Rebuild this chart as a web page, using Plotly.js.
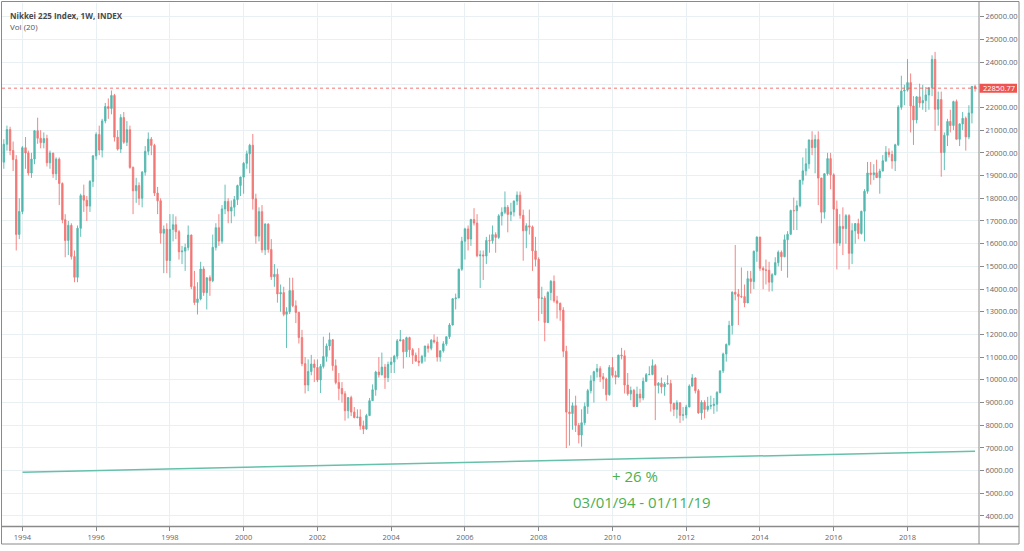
<!DOCTYPE html>
<html>
<head>
<meta charset="utf-8">
<script src="https://cdn.plot.ly/plotly-3.0.1.min.js"></script>
<style>html,body{margin:0;padding:0;background:#fff;}#chart{width:1024px;height:551px;}</style>
</head>
<body>
<div id="chart"></div>
<script>
// Nikkei 225 monthly candles, Jun 1993 .. Nov 2019
const firstYear = 1993, firstMonth = 6;
const open = [
  20700,19590,20380,21027,20106,19703,16408,
  17417,20229,19997,19112,19725,20974,20644,20449,20629,19564,19990,19077,
  19723,18650,17054,16140,16807,15437,14517,16678,18117,17913,17655,18744,
  19868,20813,20125,21407,22041,21956,22531,20692,20167,21556,20467,21020,
  19361,18330,18557,18003,19151,20068,20605,20331,18229,17888,16459,16636,
  15259,16628,16832,16527,15641,15671,15830,16379,14108,13406,13565,14883,
  13842,14499,14368,15837,16702,16112,17530,17862,17437,17605,17942,18558,
  18934,19540,19960,20337,17974,16332,17411,15727,16861,15747,14540,14649,
  13786,13843,12884,12999,13934,13262,12969,11861,10713,9775,10366,10697,
  10543,9997,10588,11025,11493,11764,10622,9878,9619,9383,8640,9216,
  8579,8340,8363,7973,7831,8425,9083,9563,10344,10219,10560,10101,
  10677,10784,11042,11715,11762,11236,11859,11326,11082,10824,10771,11031,
  11489,11388,11740,11669,11009,11277,11584,11900,12414,13574,13607,14872,
  16111,16650,16206,17060,16906,15467,15505,15457,16141,16128,16399,16274,
  17226,17383,17604,17288,17400,17876,18138,17249,16569,16786,16737,15681,
  15308,13592,13603,12526,13850,14338,13481,13377,13073,11260,8577,8512,
  8860,7994,7568,8110,8828,9523,9958,10357,10493,10133,10035,9346,
  10546,10198,10126,11090,11057,9769,9383,9537,8824,9369,9202,9937,
  10229,10237,10624,9755,9850,9693,9816,9833,8955,8700,8988,8435,
  8455,8802,9723,10083,9521,8543,9007,8695,8840,8870,8928,9446,
  10395,11139,11559,12398,13861,13775,13677,13668,13389,14456,14328,15662,
  16291,14915,14841,14828,14304,14632,15162,15621,15425,16174,16414,17460,
  17451,17674,18798,19207,19520,20563,20236,20585,18890,17388,19083,19747,
  19034,17518,16027,16759,16666,17235,15576,16569,16887,16450,17425,18308,
  19114,19041,19119,18909,19197,19651,20033,19925,19646,20356,22012,22725,
  22765,23098,22068,21454,22468,22202,22305,22554,22865,24120,21920,22351,
  20015,20773,21385,21206,22259,20601,21276,21522,20704,21756,22927
];
const high = [
  21000,20600,21200,21150,20500,19900,18000,
  20300,20700,20100,20000,21000,21550,21000,20900,20800,20100,20000,19800,
  19800,18700,17300,17000,16900,15700,16800,18200,18600,18100,18800,19900,
  20900,21200,21500,22200,22400,22750,22600,21000,21700,21800,21400,21200,
  19400,18900,18700,19200,20300,20900,20700,20400,18500,18000,16800,16900,
  17300,17300,17200,16600,15900,16000,16800,16400,14800,14300,15200,15000,
  14500,14600,16400,16900,17300,17700,18600,18000,17900,18100,18600,18950,
  19600,20100,20400,20833,18200,17600,17700,16900,16900,16200,15100,14900,
  14200,14100,13200,14500,14500,13500,13000,12200,11000,10900,11100,10900,
  10900,10700,11900,11600,12080,11800,10900,10300,9900,9500,9200,9300,
  8800,8700,8700,8200,8500,9200,9800,10400,11000,11200,10700,10800,
  11000,11100,11800,12195,11800,11900,11900,11400,11200,11400,11100,11500,
  11600,11800,12000,11900,11300,11700,11900,12500,13600,13800,14900,16300,
  16700,16800,17100,17563,17300,15700,15700,16300,16400,16800,16500,17300,
  17600,18300,17700,17800,17900,18300,18297,17500,16900,17500,16800,16300,
  15400,14100,13700,13900,14400,14600,13700,13400,13200,11500,9600,9000,
  9300,8100,8700,9000,9600,10200,10400,10700,10600,10300,10100,10650,
  11000,10400,11100,11408,11300,10300,9700,9600,9700,9600,10100,10300,
  10600,10900,10700,9900,10100,9900,10200,10000,9000,9100,9000,8800,
  8900,9800,10250,10100,9600,9100,9100,9250,9300,9200,9500,10400,
  11200,11600,12600,13900,15942,14000,14950,14200,14800,14800,15700,16320,
  16300,15000,15300,15200,14700,15400,15700,15700,16400,16550,17500,18030,
  17900,18800,19800,20200,20600,20953,20800,20950,18900,19100,20000,20000,
  19100,17900,17300,17600,17300,17300,16900,16900,17100,17450,18400,19600,
  19600,19500,19700,19300,19900,20300,20200,20100,20400,22100,23400,23000,
  24130,23500,22500,22500,23050,23000,22900,22900,24300,24450,22700,22700,
  20900,21500,21900,22300,22350,21300,21800,21600,22100,22950,23000
];
const low = [
  19400,19300,20100,19900,19200,15700,16200,
  17300,19300,19000,18900,19500,20400,20200,20200,19400,19300,18900,18800,
  17700,16900,15400,15500,15300,14300,14300,16300,17400,17000,17400,18500,
  19700,19900,19800,21300,21500,21700,20500,20100,20000,20400,20300,19300,
  17300,17800,17700,17600,19000,19900,19900,18100,17300,16000,14700,14700,
  14500,16100,16200,15300,15100,14800,15700,14000,13300,12880,13500,13700,
  13100,13700,14300,15700,15900,16000,17300,16900,16900,17200,17700,18100,
  18200,19300,19100,17500,16000,16100,15600,15500,15600,14400,14100,13400,
  13000,12800,11400,12900,13200,12500,11600,10600,9400,9500,10200,9900,
  9900,9420,10500,10800,11300,10400,9800,9100,9000,8200,8300,8400,
  8300,8300,7800,7607,7800,8400,9100,9300,10100,10200,9600,9900,
  10300,10300,10900,11700,10500,11000,11000,10700,10800,10600,10700,10800,
  11200,11300,11600,10800,10800,11200,11500,11800,12400,13100,13600,14800,
  15300,15700,15900,16800,15400,14045,14400,15100,15600,16000,15600,16200,
  16800,17300,16500,17000,17200,17700,17100,15250,15800,16400,14800,15000,
  12600,12900,11700,12500,13500,13400,12700,12600,11000,6994,7100,7800,
  7700,7200,7054,8000,8500,9400,9000,10100,9900,9600,9080,9300,
  10100,9800,10100,10900,9400,9300,9100,8800,8800,9000,9100,9900,
  10200,10200,8227,9400,9400,9300,9800,8600,8400,8300,8100,8200,
  8300,8800,9700,9400,8500,8238,8300,8600,8700,8500,8600,9400,
  10300,10800,11500,12000,13500,12415,13600,13200,13400,13800,14000,15200,
  14800,13995,14200,13885,13900,14600,15000,14800,15400,14500,16400,16600,
  16600,17600,18600,19000,19300,19900,19100,17700,16900,17100,19000,18400,
  16000,14865,15900,15500,16000,14864,15100,16000,16200,16400,16100,18200,
  18600,18800,18900,18200,19200,19600,19800,19300,19200,20300,21900,22100,
  22700,20900,20350,21300,22000,21900,21800,21900,22500,20970,21200,18950,
  19240,20300,20900,21000,20600,20300,21000,20100,20600,21300,22700
];
const close = [
  19590,20380,21027,20106,19703,16408,17417,
  20229,19997,19112,19725,20974,20644,20449,20629,19564,19990,19077,19723,
  18650,17054,16140,16807,15437,14517,16678,18117,17913,17655,18744,19868,
  20813,20125,21407,22041,21956,22531,20692,20167,21556,20467,21020,19361,
  18330,18557,18003,19151,20068,20605,20331,18229,17888,16459,16636,15259,
  16628,16832,16527,15641,15671,15830,16379,14108,13406,13565,14883,13842,
  14499,14368,15837,16702,16112,17530,17862,17437,17605,17942,18558,18934,
  19540,19960,20337,17974,16332,17411,15727,16861,15747,14540,14649,13786,
  13843,12884,12999,13934,13262,12969,11861,10713,9775,10366,10697,10543,
  9997,10588,11025,11493,11764,10622,9878,9619,9383,8640,9216,8579,
  8340,8363,7973,7831,8425,9083,9563,10344,10219,10560,10101,10677,
  10784,11042,11715,11762,11236,11859,11326,11082,10824,10771,11031,11489,
  11388,11740,11669,11009,11277,11584,11900,12414,13574,13607,14872,16111,
  16650,16206,17060,16906,15467,15505,15457,16141,16128,16399,16274,17226,
  17383,17604,17288,17400,17876,18138,17249,16569,16786,16737,15681,15308,
  13592,13603,12526,13850,14338,13481,13377,13073,11260,8577,8512,8860,
  7994,7568,8110,8828,9523,9958,10357,10493,10133,10035,9346,10546,
  10198,10126,11090,11057,9769,9383,9537,8824,9369,9202,9937,10229,
  10237,10624,9755,9850,9693,9816,9833,8955,8700,8988,8435,8455,
  8802,9723,10083,9521,8543,9007,8695,8840,8870,8928,9446,10395,
  11139,11559,12398,13861,13775,13677,13668,13389,14456,14328,15662,16291,
  14915,14841,14828,14304,14632,15162,15621,15425,16174,16414,17460,17451,
  17674,18798,19207,19520,20563,20236,20585,18890,17388,19083,19747,19034,
  17518,16027,16759,16666,17235,15576,16569,16887,16450,17425,18308,19114,
  19041,19119,18909,19197,19651,20033,19925,19646,20356,22012,22725,22765,
  23098,22068,21454,22468,22202,22305,22554,22865,24120,21920,22351,20015,
  20773,21385,21206,22259,20601,21276,21522,20704,21756,22927,22850.77
];
const lastPrice = 22850.77;
const priceTicks = [4000,5000,6000,7000,8000,9000,10000,11000,12000,13000,14000,15000,
  16000,17000,18000,19000,20000,21000,22000,23000,24000,25000,26000];
const hiddenTick = 23000; // covered by the last-price label in the reference
const rangeDates = ['1994-01-03', '2019-11-01'];
const rangeValues = [5930, 6855];
const rangeLabels = ['+ 26 %', '03/01/94 - 01/11/19'];
const titleText = 'Nikkei 225 Index, 1W, INDEX';
const volText = 'Vol (20)';

const dates = close.map((_, i) => {
  const m = firstMonth - 1 + i;
  const y = firstYear + Math.floor(m / 12);
  const mm = (m % 12) + 1;
  return y + '-' + String(mm).padStart(2, '0') + '-01';
});

// pixel helpers for paper coords (plot area x 2..979, y 3..526)
const L = 2, R = 45, T = 3, B = 25, W = 1024, H = 551;
const pw = W - L - R, ph = H - T - B;
const PX = px => (px - L) / pw;
const PY = py => 1 - (py - T) / ph;

const candles = {
  type: 'candlestick', x: dates, open: open, high: high, low: low, close: close,
  increasing: {line: {color: '#26a69a', width: 0.9}, fillcolor: '#26a69a'},
  decreasing: {line: {color: '#ef5350', width: 0.9}, fillcolor: '#ef5350'},
  whiskerwidth: 0, opacity: 0.78, hoverinfo: 'skip', showlegend: false
};
const rangeLine = {
  type: 'scatter', mode: 'lines', x: rangeDates, y: rangeValues,
  line: {color: '#66c0aa', width: 1.5}, hoverinfo: 'skip', showlegend: false
};

const tickFont = {family: 'Open Sans, Liberation Sans, sans-serif', size: 7.5, color: '#666'};
const layout = {
  width: W, height: H,
  margin: {l: L, r: R, t: T, b: B, pad: 0},
  paper_bgcolor: '#ffffff', plot_bgcolor: '#ffffff',
  showlegend: false,
  xaxis: {
    type: 'date', range: ['1993-06-13', '2019-12-10'],
    tick0: '1994-01-01', dtick: 'M24', tickformat: '%Y',
    showgrid: true, gridcolor: '#e9f0f4', gridwidth: 1,
    ticks: 'outside', ticklen: 4, tickcolor: '#888', tickfont: tickFont,
    showline: false, zeroline: false, rangeslider: {visible: false}, fixedrange: true
  },
  yaxis: {
    side: 'right', range: [3559, 26604], tickmode: 'array', tickvals: priceTicks,
    ticktext: priceTicks.map(v => v === hiddenTick ? '' : v.toFixed(2)),
    showgrid: true, gridcolor: '#e9f0f4', gridwidth: 1,
    ticks: 'outside', ticklen: 4, tickcolor: '#888', tickfont: tickFont,
    showline: false, zeroline: false, fixedrange: true
  },
  shapes: [
    {type: 'line', xref: 'paper', yref: 'y', x0: 0, x1: 1, y0: lastPrice, y1: lastPrice,
     line: {color: '#ef5350', width: 0.8, dash: 'dot'}},
    {type: 'line', xref: 'paper', yref: 'paper', x0: PX(2), x1: PX(1019), y0: PY(526.5), y1: PY(526.5),
     line: {color: '#8a8a8a', width: 1.5}},
    {type: 'line', xref: 'paper', yref: 'paper', x0: PX(979), x1: PX(979), y0: PY(544), y1: PY(2),
     line: {color: '#8a8a8a', width: 1}},
    {type: 'rect', xref: 'paper', yref: 'paper', x0: PX(1.5), x1: PX(1019), y0: PY(544), y1: PY(1.5),
     line: {color: '#8a8a8a', width: 1}},
    {type: 'rect', xref: 'paper', yref: 'y', x0: PX(979.5), x1: PX(1017), y0: lastPrice - 200, y1: lastPrice + 200,
     fillcolor: '#ef5350', line: {width: 0}, layer: 'above'}
  ],
  annotations: [
    {xref: 'paper', yref: 'y', x: PX(998.5), y: lastPrice, text: lastPrice.toFixed(2), showarrow: false,
     xanchor: 'center', yanchor: 'middle', font: {family: 'Open Sans, sans-serif', size: 7.5, color: '#ffffff'}},
    {xref: 'paper', yref: 'paper', x: PX(8), y: PY(15.5), text: '<b>' + titleText + '</b>', showarrow: false,
     xanchor: 'left', yanchor: 'middle', font: {family: 'Open Sans, sans-serif', size: 8, color: '#4a4a4a'}},
    {xref: 'paper', yref: 'paper', x: PX(8), y: PY(26), text: volText, showarrow: false,
     xanchor: 'left', yanchor: 'middle', font: {family: 'Open Sans, sans-serif', size: 8, color: '#555'}},
    {xref: 'x', yref: 'y', x: '2010-08-12', y: 5762, text: rangeLabels[0], showarrow: false,
     xanchor: 'center', yanchor: 'middle', font: {family: 'Open Sans, sans-serif', size: 15, color: '#4caf50'}},
    {xref: 'x', yref: 'y', x: '2010-10-21', y: 4617, text: rangeLabels[1], showarrow: false,
     xanchor: 'center', yanchor: 'middle', font: {family: 'Open Sans, sans-serif', size: 15, color: '#4caf50'}}
  ]
};

Plotly.newPlot('chart', [rangeLine, candles], layout, {staticPlot: true, displayModeBar: false});
</script>
</body>
</html>
